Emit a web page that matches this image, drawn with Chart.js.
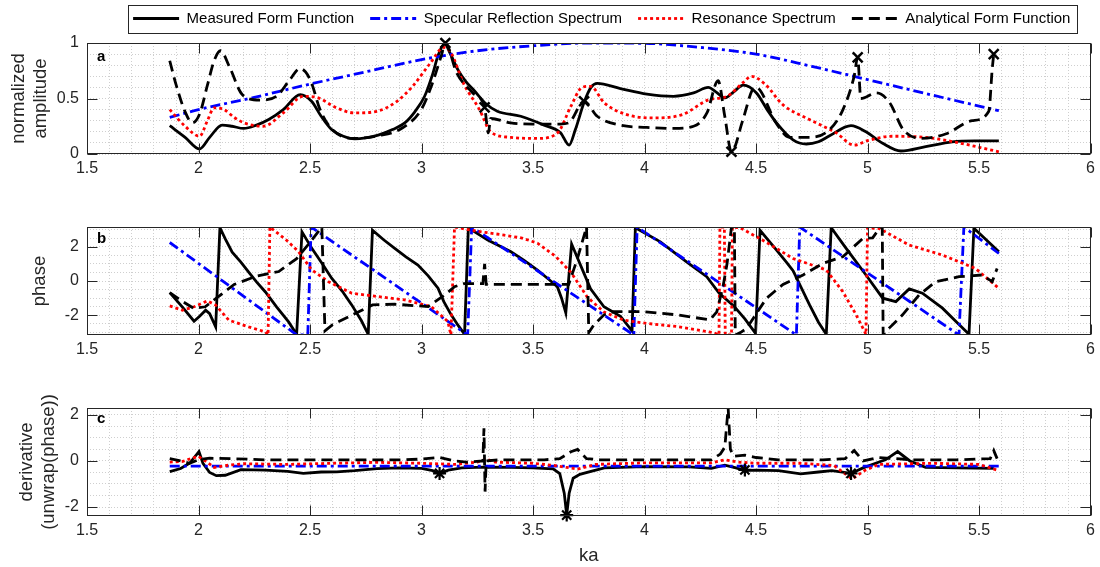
<!DOCTYPE html>
<html>
<head>
<meta charset="utf-8">
<script src="https://cdn.jsdelivr.net/npm/chart.js@4.4.1/dist/chart.umd.min.js"></script>
<style>
  body { margin: 0; background: #fff; width: 1100px; height: 567px; position: relative; overflow: hidden; }
  canvas { position: absolute; left: 0; }
</style>
</head>
<body>
<canvas id="pa" width="1100" height="190" style="top:0"></canvas>
<canvas id="pb" width="1100" height="185" style="top:190px"></canvas>
<canvas id="pc" width="1100" height="192" style="top:375px"></canvas>
<script>
// series names and tick labels
const seriesNames = ['Measured Form Function', 'Specular Reflection Spectrum', 'Resonance Spectrum', 'Analytical Form Function'];
const kaTicks = [1.5, 2, 2.5, 3, 3.5, 4, 4.5, 5, 5.5, 6];
const ampTicks = [0, 0.5, 1];
const phaseTicks = [-2, 0, 2];
const derivTicks = [-2, 0, 2];

// panel a: normalized amplitude, [ka, value]
const ampMeasured = [[1.871,0.255],[1.94,0.15],[2.005,0.045],[2.05,0.15],[2.106,0.26],[2.15,0.25],[2.203,0.23],[2.26,0.26],[2.315,0.31],[2.38,0.40],[2.456,0.535],[2.507,0.475],[2.55,0.34],[2.597,0.22],[2.65,0.16],[2.70,0.136],[2.75,0.145],[2.806,0.17],[2.87,0.22],[2.925,0.28],[2.97,0.38],[3.014,0.52],[3.05,0.72],[3.074,0.885],[3.104,0.99],[3.13,0.9],[3.163,0.76],[3.2,0.65],[3.237,0.57],[3.29,0.45],[3.34,0.385],[3.445,0.34],[3.55,0.26],[3.624,0.19],[3.662,0.08],[3.69,0.22],[3.73,0.47],[3.76,0.6],[3.788,0.636],[3.892,0.59],[4.011,0.54],[4.13,0.52],[4.22,0.55],[4.286,0.60],[4.32,0.56],[4.361,0.505],[4.40,0.56],[4.443,0.62],[4.502,0.55],[4.55,0.4],[4.592,0.28],[4.666,0.127],[4.726,0.09],[4.78,0.11],[4.83,0.164],[4.926,0.255],[4.993,0.20],[5.068,0.097],[5.15,0.027],[5.261,0.066],[5.38,0.11],[5.48,0.118],[5.589,0.118]];
const ampSpecular = [[1.871,0.33],[2.0,0.40],[2.25,0.51],[2.5,0.63],[2.75,0.74],[3.0,0.85],[3.25,0.93],[3.5,0.975],[3.75,1.0],[4.0,0.997],[4.25,0.96],[4.5,0.90],[4.75,0.79],[5.0,0.67],[5.25,0.55],[5.589,0.39]];
const ampResonance = [[1.871,0.40],[1.94,0.25],[2.005,0.16],[2.04,0.3],[2.07,0.415],[2.115,0.40],[2.16,0.33],[2.205,0.28],[2.29,0.25],[2.38,0.37],[2.47,0.52],[2.53,0.51],[2.62,0.415],[2.70,0.37],[2.80,0.385],[2.89,0.475],[2.96,0.61],[3.04,0.82],[3.10,0.96],[3.13,0.92],[3.19,0.63],[3.26,0.40],[3.31,0.20],[3.40,0.15],[3.52,0.14],[3.61,0.19],[3.67,0.43],[3.72,0.60],[3.758,0.61],[3.82,0.46],[3.92,0.355],[4.04,0.325],[4.17,0.355],[4.29,0.49],[4.37,0.52],[4.44,0.64],[4.48,0.70],[4.54,0.63],[4.62,0.445],[4.74,0.31],[4.86,0.19],[4.94,0.08],[5.0,0.12],[5.11,0.16],[5.26,0.15],[5.41,0.10],[5.589,0.02]];
const ampAnalytical = [[1.871,0.84],[1.90,0.62],[1.94,0.38],[1.972,0.28],[2.005,0.36],[2.04,0.62],[2.07,0.84],[2.099,0.93],[2.14,0.78],[2.196,0.536],[2.275,0.485],[2.35,0.52],[2.41,0.67],[2.455,0.77],[2.48,0.74],[2.507,0.64],[2.545,0.40],[2.6,0.22],[2.70,0.14],[2.806,0.165],[2.91,0.23],[2.999,0.40],[3.044,0.61],[3.088,0.88],[3.107,1.0],[3.158,0.73],[3.23,0.55],[3.283,0.42],[3.30,0.19],[3.31,0.32],[3.40,0.28],[3.50,0.27],[3.62,0.27],[3.66,0.28],[3.729,0.475],[3.788,0.34],[3.89,0.26],[4.01,0.24],[4.13,0.23],[4.22,0.25],[4.28,0.37],[4.33,0.66],[4.36,0.34],[4.39,0.02],[4.44,0.30],[4.484,0.58],[4.50,0.6],[4.59,0.28],[4.65,0.15],[4.74,0.15],[4.83,0.22],[4.89,0.40],[4.94,0.70],[4.956,0.87],[4.97,0.5],[5.04,0.55],[5.10,0.46],[5.16,0.22],[5.24,0.14],[5.35,0.18],[5.47,0.30],[5.544,0.385],[5.559,0.76],[5.566,0.9]];
const ampMarks = [[3.107,1.0],[3.283,0.42],[3.729,0.475],[4.39,0.02],[4.956,0.87],[5.566,0.9]];

// panel b: wrapped phase
const phaseMeasured = [[1.871,-0.68],[1.93,-1.55],[1.98,-2.34],[2.005,-2.05],[2.032,-1.7],[2.05,-1.9],[2.077,-2.67],[2.096,3.1],[2.12,2.45],[2.151,1.68],[2.19,1.1],[2.225,0.52],[2.26,-0.05],[2.30,-0.64],[2.35,-1.5],[2.404,-2.38],[2.44,-3.1],[2.464,2.86],[2.508,1.9],[2.555,1.0],[2.597,0.16],[2.645,-0.6],[2.687,-1.39],[2.73,-2.3],[2.761,-3.1],[2.78,2.96],[2.83,2.4],[2.88,1.9],[2.93,1.4],[2.984,0.93],[3.03,0.3],[3.074,-0.42],[3.10,-1.2],[3.133,-1.97],[3.165,-2.6],[3.193,-3.1],[3.21,3.1],[3.297,2.38],[3.401,1.7],[3.46,1.2],[3.52,0.63],[3.57,0.1],[3.609,-0.33],[3.628,-1.0],[3.647,-1.85],[3.673,2.15],[3.699,1.35],[3.73,0.4],[3.758,-0.45],[3.818,-1.5],[3.892,-2.05],[3.944,-2.9],[3.959,3.1],[4.071,2.28],[4.19,1.1],[4.279,0.25],[4.335,-0.72],[4.40,-1.45],[4.45,-2.2],[4.498,-3.05],[4.518,2.95],[4.592,1.8],[4.636,1.1],[4.666,0.6],[4.74,-1.39],[4.78,-2.4],[4.815,-3.1],[4.837,3.1],[4.904,1.9],[4.993,0.35],[5.068,-1.0],[5.127,-1.2],[5.187,-0.46],[5.246,-0.71],[5.336,-1.58],[5.40,-2.4],[5.455,-3.1],[5.477,3.07],[5.589,1.70]];
const phaseSpecular = [[1.871,2.24],[2.441,-3.14],[2.49,-3.14],[2.505,3.14],[3.207,-3.14],[3.225,3.14],[3.952,-3.14],[3.967,3.14],[4.681,-3.14],[4.696,3.14],[5.41,-3.14],[5.432,3.14],[5.589,1.6]];
const phaseResonance = [[1.871,-1.45],[1.928,-1.7],[1.98,-1.5],[2.04,-1.16],[2.077,-1.4],[2.136,-2.28],[2.225,-2.67],[2.30,-2.96],[2.312,-3.14],[2.32,3.14],[2.396,2.36],[2.449,1.7],[2.508,0.64],[2.583,-0.04],[2.687,-0.71],[2.806,-0.91],[2.925,-1.1],[3.044,-1.49],[3.118,-2.36],[3.132,-3.14],[3.148,3.14],[3.222,2.96],[3.30,2.8],[3.371,2.67],[3.45,2.5],[3.52,2.2],[3.60,1.45],[3.669,0.52],[3.743,-0.93],[3.818,-1.8],[3.907,-2.28],[4.011,-2.47],[4.145,-2.65],[4.309,-3.0],[4.334,-3.14],[4.338,3.14],[4.358,3.14],[4.362,-3.14],[4.39,-3.14],[4.394,3.14],[4.428,3.1],[4.532,2.36],[4.666,1.31],[4.815,0.64],[4.889,-0.62],[4.949,-1.97],[4.993,-3.1],[5.0,3.1],[5.053,3.05],[5.187,2.09],[5.336,1.51],[5.484,0.73],[5.589,-0.43]];
const phaseAnalytical = [[1.871,-0.68],[1.93,-1.2],[1.98,-1.6],[2.03,-1.5],[2.08,-1.0],[2.16,-0.2],[2.26,0.28],[2.36,0.55],[2.44,1.3],[2.508,2.38],[2.553,3.14],[2.567,-2.9],[2.60,-2.55],[2.69,-1.97],[2.78,-1.39],[2.88,-1.35],[3.03,-1.49],[3.104,-0.81],[3.148,-0.33],[3.19,-0.15],[3.275,-0.15],[3.283,1.0],[3.29,-0.2],[3.40,-0.2],[3.58,-0.2],[3.66,-0.2],[3.699,1.3],[3.74,3.14],[3.75,-3.0],[3.773,-2.55],[3.818,-1.97],[3.862,-1.78],[3.996,-1.78],[4.145,-1.97],[4.294,-2.26],[4.324,-1.8],[4.353,-0.25],[4.37,1.0],[4.39,3.14],[4.403,3.14],[4.407,-3.14],[4.43,-3.0],[4.458,-2.76],[4.547,-1.0],[4.621,-0.2],[4.711,0.35],[4.80,1.03],[4.889,1.41],[4.978,2.47],[5.023,2.51],[5.053,3.05],[5.066,3.14],[5.07,-3.14],[5.097,-2.74],[5.157,-1.97],[5.231,-0.81],[5.306,-0.04],[5.41,0.25],[5.514,0.35],[5.559,-0.04],[5.581,0.73]];

// panel c: derivative of unwrapped phase
const derivMeasured = [[1.871,-0.46],[1.92,-0.33],[1.96,-0.1],[2.002,0.41],[2.02,-0.1],[2.05,-0.5],[2.08,-0.64],[2.12,-0.62],[2.19,-0.38],[2.3,-0.4],[2.4,-0.45],[2.47,-0.54],[2.55,-0.48],[2.62,-0.47],[2.7,-0.42],[2.8,-0.33],[2.9,-0.3],[3.0,-0.32],[3.05,-0.42],[3.081,-0.54],[3.12,-0.4],[3.18,-0.3],[3.28,-0.27],[3.4,-0.28],[3.5,-0.3],[3.59,-0.34],[3.62,-0.55],[3.64,-1.4],[3.651,-2.35],[3.662,-1.4],[3.68,-0.75],[3.71,-0.58],[3.76,-0.45],[3.82,-0.3],[4.0,-0.25],[4.2,-0.26],[4.3,-0.32],[4.36,-0.18],[4.41,-0.3],[4.45,-0.42],[4.5,-0.4],[4.6,-0.42],[4.7,-0.56],[4.78,-0.48],[4.84,-0.42],[4.926,-0.54],[4.98,-0.3],[5.03,-0.12],[5.08,0.05],[5.135,0.41],[5.19,0.0],[5.26,-0.28],[5.4,-0.3],[5.566,-0.32]];
const derivSpecular = [[1.871,-0.22],[2.5,-0.22],[3.0,-0.22],[3.5,-0.22],[4.0,-0.22],[4.5,-0.22],[5.0,-0.22],[5.589,-0.22]];
const derivResonance = [[1.871,-0.05],[1.93,-0.02],[1.97,0.12],[2.0,0.2],[2.03,0.0],[2.07,-0.28],[2.12,-0.2],[2.2,-0.12],[2.4,-0.15],[2.6,-0.1],[2.8,-0.06],[3.0,-0.1],[3.15,-0.15],[3.25,-0.05],[3.29,0.08],[3.33,-0.05],[3.5,-0.1],[3.6,-0.2],[3.65,-0.28],[3.7,-0.35],[3.78,-0.15],[4.0,-0.08],[4.3,-0.08],[4.36,0.05],[4.42,-0.05],[4.5,-0.1],[4.7,-0.1],[4.85,-0.2],[4.93,-0.78],[4.99,-0.4],[5.05,-0.15],[5.3,-0.1],[5.5,-0.15],[5.589,-0.42]];
const derivAnalytical = [[1.871,0.1],[1.92,0.0],[1.96,-0.1],[2.0,0.05],[2.05,0.12],[2.15,0.1],[2.3,0.05],[2.5,0.05],[2.7,0.05],[2.9,0.05],[3.0,0.08],[3.08,0.15],[3.15,0.0],[3.2,-0.05],[3.275,0.0],[3.28,1.42],[3.285,-1.33],[3.29,0.0],[3.35,0.05],[3.55,0.05],[3.62,0.1],[3.67,0.4],[3.7,0.5],[3.74,0.1],[3.8,0.05],[4.0,0.05],[4.3,0.05],[4.34,0.3],[4.36,0.6],[4.375,2.3],[4.385,0.5],[4.4,0.2],[4.45,0.25],[4.5,0.15],[4.6,0.05],[4.8,0.05],[4.9,0.1],[4.94,0.45],[4.98,0.0],[5.05,0.15],[5.2,0.05],[5.4,0.05],[5.55,0.1],[5.566,0.45],[5.581,0.1]];
const derivMarks = [[3.081,-0.54],[3.651,-2.35],[4.45,-0.39],[4.926,-0.54]];

const FONT = "'Liberation Sans', Arial, Helvetica, sans-serif";
const INK = '#262626';
const GRID = '#cfcfcf';

const looks = [
  { borderColor: '#000000', borderDash: [], order: 4 },
  { borderColor: '#0000ff', borderDash: [10, 4, 3, 4], order: 3 },
  { borderColor: '#ff0000', borderDash: [3, 3], order: 2 },
  { borderColor: '#000000', borderDash: [11, 6], order: 1 },
];

const toXY = arr => arr.map(([x, y]) => ({ x, y }));
const near = (v, list) => list.some(t => Math.abs(t - v) < 1e-9);

function lineSets(series, smooth) {
  return series.map((s, i) => ({
    label: seriesNames[i],
    data: toXY(s),
    borderColor: looks[i].borderColor,
    backgroundColor: looks[i].borderColor,
    borderDash: looks[i].borderDash,
    borderWidth: 2.8,
    order: looks[i].order,
    pointRadius: 0,
    fill: false,
    tension: 0,
    cubicInterpolationMode: smooth ? 'monotone' : 'default',
  }));
}

function markSet(arr, style, r, w) {
  return {
    label: '_marks', data: toXY(arr), showLine: false, order: 0, clip: false,
    pointStyle: style, pointRadius: r, pointBorderWidth: w,
    borderColor: '#000', backgroundColor: '#000',
  };
}

// box, inward ticks and panel letter
const frame = {
  id: 'frame',
  afterDraw(chart, args, o) {
    const { ctx, chartArea: a, scales: { x, y } } = chart;
    const L = Math.round(a.left) + 0.5, R = Math.round(a.right) - 0.5;
    const T = Math.round(a.top) + 0.5, B = Math.round(a.bottom) - 0.5;
    ctx.save();
    ctx.strokeStyle = INK;
    ctx.lineWidth = 1;
    ctx.setLineDash([]);
    ctx.strokeRect(L, T, R - L, B - T);
    ctx.beginPath();
    kaTicks.forEach(v => {
      const px = Math.round(x.getPixelForValue(v)) + 0.5;
      ctx.moveTo(px, B); ctx.lineTo(px, B - 10);
      ctx.moveTo(px, T); ctx.lineTo(px, T + 10);
    });
    o.yt.forEach(v => {
      const py = Math.round(y.getPixelForValue(v)) + 0.5;
      ctx.moveTo(L, py); ctx.lineTo(L + 10, py);
      ctx.moveTo(R, py); ctx.lineTo(R - 10, py);
    });
    ctx.stroke();
    ctx.fillStyle = '#000';
    ctx.font = 'bold 15px ' + FONT;
    ctx.textBaseline = 'alphabetic';
    ctx.fillText(o.letter, a.left + 10, a.top + o.dy);
    ctx.restore();
  }
};

// move the legend into place and draw its box
const legendBox = {
  id: 'legendBox',
  afterLayout(chart) {
    const l = chart.legend;
    const p = l.options.labels.padding;
    const dy = 18.5 - (l.top + p + 7.5);
    l.top += dy; l.bottom += dy;
    l.left += 13; l.right += 13;
  },
  afterDraw(chart) {
    const l = chart.legend;
    const p = l.options.labels.padding;
    const lw = l.lineWidths[0];
    const x0 = (l.left + p + l.right - lw) / 2;
    const x1 = x0 + lw - p;
    const cy = l.top + p + 7.5;
    const ctx = chart.ctx;
    ctx.save();
    ctx.setLineDash([]);
    ctx.strokeStyle = INK;
    ctx.lineWidth = 1;
    ctx.strokeRect(Math.round(x0 - 5) + 0.5, Math.round(cy - 14) + 0.5, Math.round(x1 - x0 + 12), 28);
    ctx.restore();
  }
};

const kaGrid = Array.from({ length: 46 }, (_, i) => (15 + i) / 10);

function panel(id, c) {
  return new Chart(document.getElementById(id), {
    type: 'line',
    data: { datasets: c.datasets },
    options: {
      responsive: false,
      animation: false,
      devicePixelRatio: 1,
      layout: { padding: c.padding },
      plugins: {
        legend: c.legend || { display: false },
        tooltip: { enabled: false },
        frame: { letter: c.letter, dy: c.letterDy, yt: c.yTicks },
      },
      scales: {
        x: {
          type: 'linear', min: 1.5, max: 6,
          afterBuildTicks: s => { s.ticks = kaGrid.map(v => ({ value: v })); },
          afterFit: s => { s.height = c.xHeight; },
          ticks: {
            autoSkip: false, maxRotation: 0, padding: 5, color: INK,
            font: { family: FONT, size: 16 },
            callback: v => near(v, kaTicks) ? String(v) : '',
          },
          grid: { color: GRID, drawTicks: false, lineWidth: 1 },
          border: { display: false, dash: [1, 2] },
          title: c.xTitle
            ? { display: true, text: c.xTitle, color: INK, font: { family: FONT, size: 18.5, lineHeight: 1.2 }, padding: { top: 0, bottom: 0 } }
            : { display: false },
        },
        y: {
          type: 'linear', min: c.yMin, max: c.yMax,
          afterBuildTicks: s => { s.ticks = c.yGrid.map(v => ({ value: v })); },
          afterFit: s => { s.width = 87; },
          ticks: {
            autoSkip: false, padding: 8, color: INK,
            font: { family: FONT, size: 16 },
            callback: v => near(v, c.yTicks) ? String(v) : '',
          },
          grid: { color: GRID, drawTicks: false, lineWidth: 1 },
          border: { display: false, dash: [1, 2] },
          title: {
            display: true, text: c.yTitle, color: INK,
            font: { family: FONT, size: 18.5, lineHeight: 1.2 },
            padding: { top: c.yTitlePad, bottom: 0 },
          },
        },
      },
    },
    plugins: c.extra ? [frame, c.extra] : [frame],
  });
}

const legendOpts = {
  display: true, position: 'top', fullSize: false, align: 'center',
  labels: {
    usePointStyle: true, pointStyle: 'line', pointStyleWidth: 46, padding: 16,
    color: '#000', font: { family: FONT, size: 15 },
    generateLabels: chart => Chart.defaults.plugins.legend.labels.generateLabels(chart).map(it => {
      const ds = chart.data.datasets[it.datasetIndex];
      return Object.assign(it, { lineDash: ds.borderDash, lineWidth: ds.borderWidth, strokeStyle: ds.borderColor, pointStyle: 'line' });
    }),
    filter: it => !it.text.startsWith('_'),
    sort: (a, b) => a.datasetIndex - b.datasetIndex,
  },
};

panel('pa', {
  datasets: [...lineSets([ampMeasured, ampSpecular, ampResonance, ampAnalytical], true), markSet(ampMarks, 'crossRot', 7, 2.5)],
  padding: { top: 2, bottom: 6, left: 0, right: 4 },
  legend: legendOpts, extra: legendBox,
  xHeight: 30, yMin: 0, yMax: 1,
  yGrid: Array.from({ length: 11 }, (_, i) => i / 10), yTicks: ampTicks,
  yTitle: ['normalized', 'amplitude'], yTitlePad: 8,
  letter: 'a', letterDy: 17.5,
});

panel('pb', {
  datasets: lineSets([phaseMeasured, phaseSpecular, phaseResonance, phaseAnalytical], false),
  padding: { top: 37, bottom: 10, left: 0, right: 4 },
  xHeight: 30, yMin: -Math.PI, yMax: Math.PI,
  yGrid: Array.from({ length: 13 }, (_, i) => (i - 6) / 2), yTicks: phaseTicks,
  yTitle: 'phase', yTitlePad: 29,
  letter: 'b', letterDy: 16,
});

panel('pc', {
  datasets: [...lineSets([derivMeasured, derivSpecular, derivResonance, derivAnalytical], false), markSet(derivMarks, 'star', 6.5, 2.2)],
  padding: { top: 33, bottom: 0, left: 0, right: 4 },
  xHeight: 51, xTitle: 'ka', yMin: -2.39, yMax: 2.3,
  yGrid: Array.from({ length: 9 }, (_, i) => (i - 4) / 2), yTicks: derivTicks,
  yTitle: ['derivative', '(unwrap(phase))'], yTitlePad: 16,
  letter: 'c', letterDy: 14.5,
});
</script>
</body>
</html>
